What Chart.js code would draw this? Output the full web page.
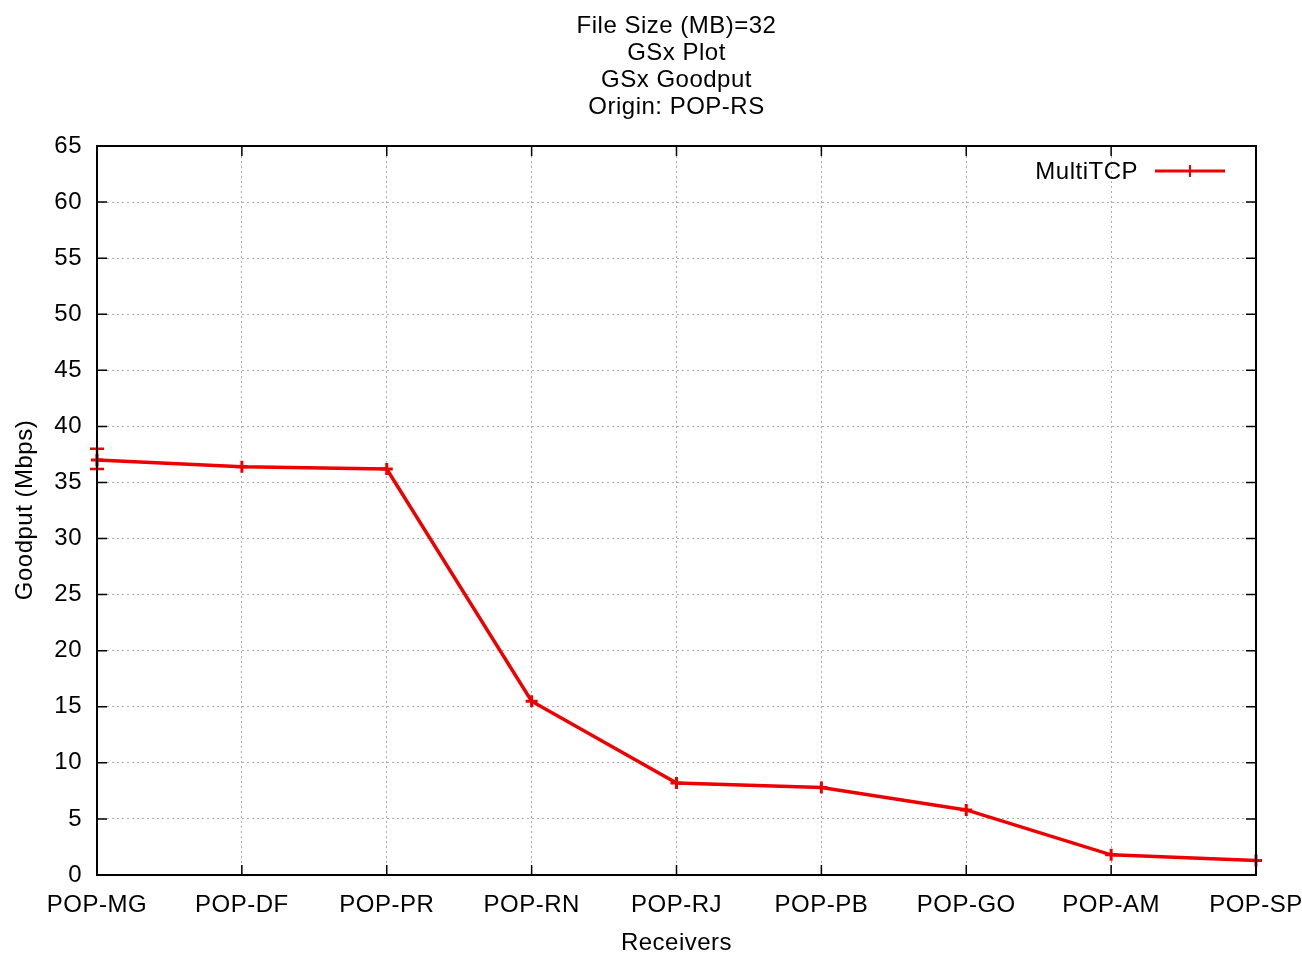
<!DOCTYPE html>
<html>
<head>
<meta charset="utf-8">
<title>GSx Goodput</title>
<script src="https://cdn.jsdelivr.net/npm/chart.js@4.4.0/dist/chart.umd.min.js"></script>
<style>
  html, body { margin: 0; padding: 0; background: #fff; overflow: hidden; }
  #wrap { width: 1302px; height: 955px; position: relative; }
</style>
</head>
<body>
<div id="wrap"><canvas id="goodput"></canvas></div>
<script>
const receivers = ['POP-MG', 'POP-DF', 'POP-PR', 'POP-RN', 'POP-RJ', 'POP-PB', 'POP-GO', 'POP-AM', 'POP-SP'];
const goodput = [37.0, 36.4, 36.2, 15.5, 8.2, 7.8, 5.8, 1.8, 1.3];
// error bar ends (only the first receiver has a visible spread)
const errLow = [36.2, null, null, null, null, null, null, null, null];
const errHigh = [38.0, null, null, null, null, null, null, null, null];
const titleLines = ['File Size (MB)=32', 'GSx Plot', 'GSx Goodput', 'Origin: POP-RS'];
const seriesName = 'MultiTCP';
const xTitle = 'Receivers';
const yTitle = 'Goodput (Mbps)';

const RED = 'rgb(238,0,0)';
const FONT = '"Liberation Sans", Arial, sans-serif';
const FSIZE = 24;

const gnuplotFrame = {
  id: 'gnuplotFrame',
  beforeDraw(chart) {
    // slightly looser tracking for every label drawn on the canvas
    chart.ctx.letterSpacing = '0.5px';
  },
  afterDatasetsDraw(chart) {
    const { ctx, chartArea: a, scales: { x, y } } = chart;
    ctx.save();

    // error bars
    ctx.strokeStyle = RED;
    ctx.lineWidth = 2.5;
    errLow.forEach((lo, i) => {
      const hi = errHigh[i];
      if (lo == null || hi == null) return;
      const px = x.getPixelForValue(i);
      const yl = y.getPixelForValue(lo), yh = y.getPixelForValue(hi);
      ctx.beginPath();
      ctx.moveTo(px, yl); ctx.lineTo(px, yh);
      ctx.moveTo(px - 7, yl); ctx.lineTo(px + 7, yl);
      ctx.moveTo(px - 7, yh); ctx.lineTo(px + 7, yh);
      ctx.stroke();
    });

    // frame and inward ticks on all four sides
    ctx.strokeStyle = '#000';
    ctx.lineWidth = 2;
    ctx.strokeRect(a.left, a.top, a.right - a.left, a.bottom - a.top);
    ctx.lineWidth = 1.5;
    ctx.beginPath();
    y.ticks.forEach(t => {
      const py = y.getPixelForValue(t.value);
      ctx.moveTo(a.left, py); ctx.lineTo(a.left + 10, py);
      ctx.moveTo(a.right, py); ctx.lineTo(a.right - 10, py);
    });
    receivers.forEach((r, i) => {
      const px = x.getPixelForValue(i);
      ctx.moveTo(px, a.bottom); ctx.lineTo(px, a.bottom - 10);
      ctx.moveTo(px, a.top); ctx.lineTo(px, a.top + 10);
    });
    ctx.stroke();

    // titles
    ctx.fillStyle = '#000';
    ctx.font = FSIZE + 'px ' + FONT;
    ctx.textAlign = 'center';
    ctx.textBaseline = 'middle';
    const cx = (a.left + a.right) / 2;
    titleLines.forEach((t, i) => ctx.fillText(t, cx, 26 + i * 27));
    ctx.fillText(xTitle, cx, 943);
    ctx.save();
    ctx.translate(25, 510);
    ctx.rotate(-Math.PI / 2);
    ctx.fillText(yTitle, 0, 0);
    ctx.restore();

    // key
    ctx.textAlign = 'right';
    ctx.fillText(seriesName, 1138, 172);
    ctx.strokeStyle = RED;
    ctx.lineWidth = 3;
    ctx.beginPath();
    ctx.moveTo(1155, 171); ctx.lineTo(1225, 171);
    ctx.stroke();
    ctx.lineWidth = 2;
    ctx.beginPath();
    ctx.moveTo(1184, 171); ctx.lineTo(1196, 171);
    ctx.moveTo(1190, 165); ctx.lineTo(1190, 177);
    ctx.stroke();

    ctx.restore();
  }
};

new Chart(document.getElementById('goodput'), {
  type: 'line',
  data: {
    labels: receivers,
    datasets: [{
      label: seriesName,
      data: goodput,
      borderColor: RED,
      backgroundColor: RED,
      borderWidth: 3.5,
      pointStyle: 'cross',
      pointRadius: 6,
      pointBorderWidth: 3,
      tension: 0
    }]
  },
  options: {
    responsive: true,
    maintainAspectRatio: false,
    animation: false,
    layout: { padding: { top: 146, right: 46, left: 0, bottom: 0 } },
    plugins: { legend: { display: false }, tooltip: { enabled: false } },
    scales: {
      x: {
        type: 'category',
        offset: false,
        grid: { color: 'rgba(150,150,150,0.8)', lineWidth: 1, drawTicks: false },
        border: { display: false, dash: [2, 3] },
        ticks: { color: '#000', font: { family: FONT, size: FSIZE }, padding: 16, maxRotation: 0, autoSkip: false },
        afterFit(s) { s.height = 80; s.paddingLeft = 0; s.paddingRight = 0; }
      },
      y: {
        min: 0,
        max: 65,
        grid: { color: 'rgba(150,150,150,0.8)', lineWidth: 1, drawTicks: false },
        border: { display: false, dash: [2, 3] },
        ticks: { stepSize: 5, color: '#000', font: { family: FONT, size: FSIZE }, padding: 15 },
        afterFit(s) { s.width = 97; s.paddingTop = 0; s.paddingBottom = 0; }
      }
    }
  },
  plugins: [gnuplotFrame]
});
</script>
</body>
</html>
